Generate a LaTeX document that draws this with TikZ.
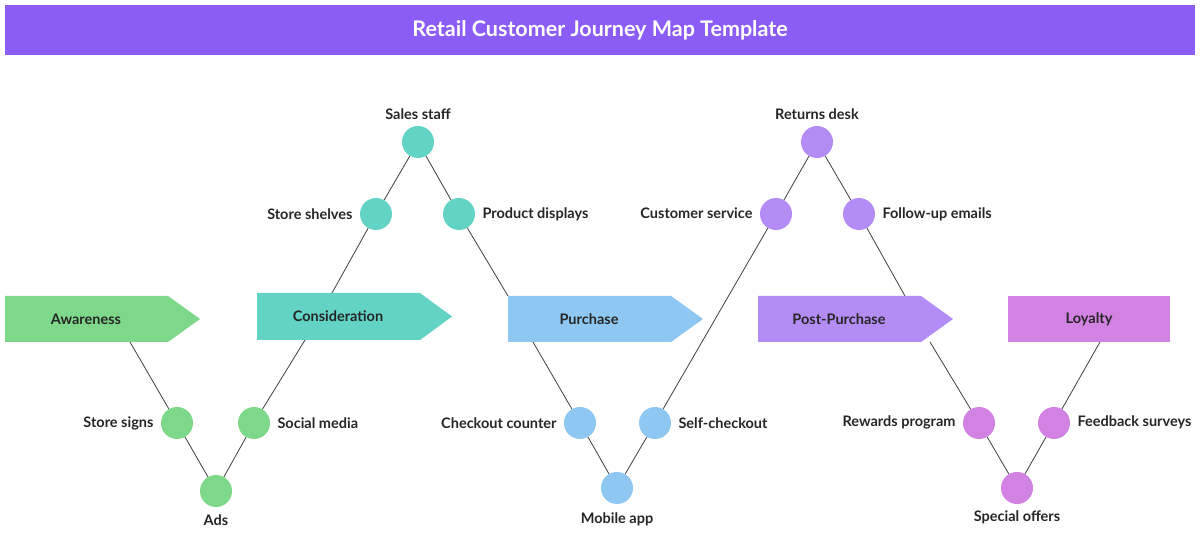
\documentclass[tikz,border=0pt]{standalone}
\usepackage{fontspec}
\setmainfont{Lato}
\begin{document}
\begin{tikzpicture}[x=1pt,y=-1pt,
  dot/.style={circle,minimum size=32pt,inner sep=0pt},
  lab/.style={font=\bfseries\fontsize{14.5}{16}\selectfont,text=black!85},
  stage/.style={font=\bfseries\fontsize{14.5}{16}\selectfont,text=black!85},
  conn/.style={draw=black!75,line width=0.8pt}]
\definecolor{cT}{HTML}{8B5CF6}
\definecolor{cA}{HTML}{7ED88A}
\definecolor{cC}{HTML}{62D3C4}
\definecolor{cP}{HTML}{8EC8F2}
\definecolor{cQ}{HTML}{B38CF5}
\definecolor{cL}{HTML}{D282E2}
\useasboundingbox[fill=white] (0,0) rectangle (1200,534);
\node[fill=cT,minimum width=1190pt,minimum height=50pt,inner sep=0pt,text=white,font=\bfseries\fontsize{21.5}{24}\selectfont] (title) at (600,30) {Retail Customer Journey Map Template};
% endpoints
\coordinate (a1) at (130,342); \coordinate (a2) at (305,340);
\coordinate (c1) at (332,293); \coordinate (c2) at (508,296);
\coordinate (p1) at (533,342); \coordinate (q1) at (905,296);
\coordinate (q2) at (930,342); \coordinate (l1) at (1100,342);
% circles
\node[dot,fill=cA] (ss) at (177,423) {}; \node[dot,fill=cA] (sm) at (254,423) {}; \node[dot,fill=cA] (ad) at (216,491) {};
\node[dot,fill=cC] (sh) at (376,214) {}; \node[dot,fill=cC] (pd) at (459,214) {}; \node[dot,fill=cC] (st) at (418,142) {};
\node[dot,fill=cP] (cc) at (580,423) {}; \node[dot,fill=cP] (sc) at (655,423) {}; \node[dot,fill=cP] (ma) at (617,488) {};
\node[dot,fill=cQ] (cs) at (776,214) {}; \node[dot,fill=cQ] (rd) at (817,142) {}; \node[dot,fill=cQ] (fe) at (859,214) {};
\node[dot,fill=cL] (rp) at (979,423) {}; \node[dot,fill=cL] (so) at (1017,488) {}; \node[dot,fill=cL] (fs) at (1054,423) {};
% connectors
\draw[conn] (a1) -- (ss) -- (ad) -- (sm) -- (a2);
\draw[conn] (c1) -- (sh) -- (st) -- (pd) -- (c2);
\draw[conn] (p1) -- (cc) -- (ma) -- (sc) -- (cs) -- (rd) -- (fe) -- (q1);
\draw[conn] (q2) -- (rp) -- (so) -- (fs) -- (l1);
% stages
\fill[cA] (5,296) -- (168,296) -- (200,319) -- (168,342) -- (5,342) -- cycle;
\node[stage] (sA) at (86,319) {Awareness};
\fill[cC] (257,293) -- (420,293) -- (452,316.5) -- (420,340) -- (257,340) -- cycle;
\node[stage] (sC) at (338,316) {Consideration};
\fill[cP] (508,296) -- (671,296) -- (703,319) -- (671,342) -- (508,342) -- cycle;
\node[stage] (sP) at (589,319) {Purchase};
\fill[cQ] (758,296) -- (921,296) -- (953,319) -- (921,342) -- (758,342) -- cycle;
\node[stage] (sQ) at (839,319) {Post-Purchase};
\fill[cL] (1008,296) rectangle (1170,342);
\node[stage] (sL) at (1089,319) {Loyalty};
% labels
\node[lab,anchor=east] at (157,423) {Store signs};
\node[lab,anchor=west] at (274,423) {Social media};
\node[lab] at (216,520) {Ads};
\node[lab,anchor=east] at (356,214) {Store shelves};
\node[lab,anchor=west] at (479,214) {Product displays};
\node[lab] at (418,114) {Sales staff};
\node[lab,anchor=east] at (560,423) {Checkout counter};
\node[lab,anchor=west] at (675,423) {Self-checkout};
\node[lab] at (617,519) {Mobile app};
\node[lab,anchor=east] at (756,213) {Customer service};
\node[lab] at (817,114) {Returns desk};
\node[lab,anchor=west] at (879,214) {Follow-up emails};
\node[lab,anchor=east] at (959,422) {Rewards program};
\node[lab] at (1017,517) {Special offers};
\node[lab,anchor=west] at (1074,422) {Feedback surveys};
\end{tikzpicture}
\end{document}
